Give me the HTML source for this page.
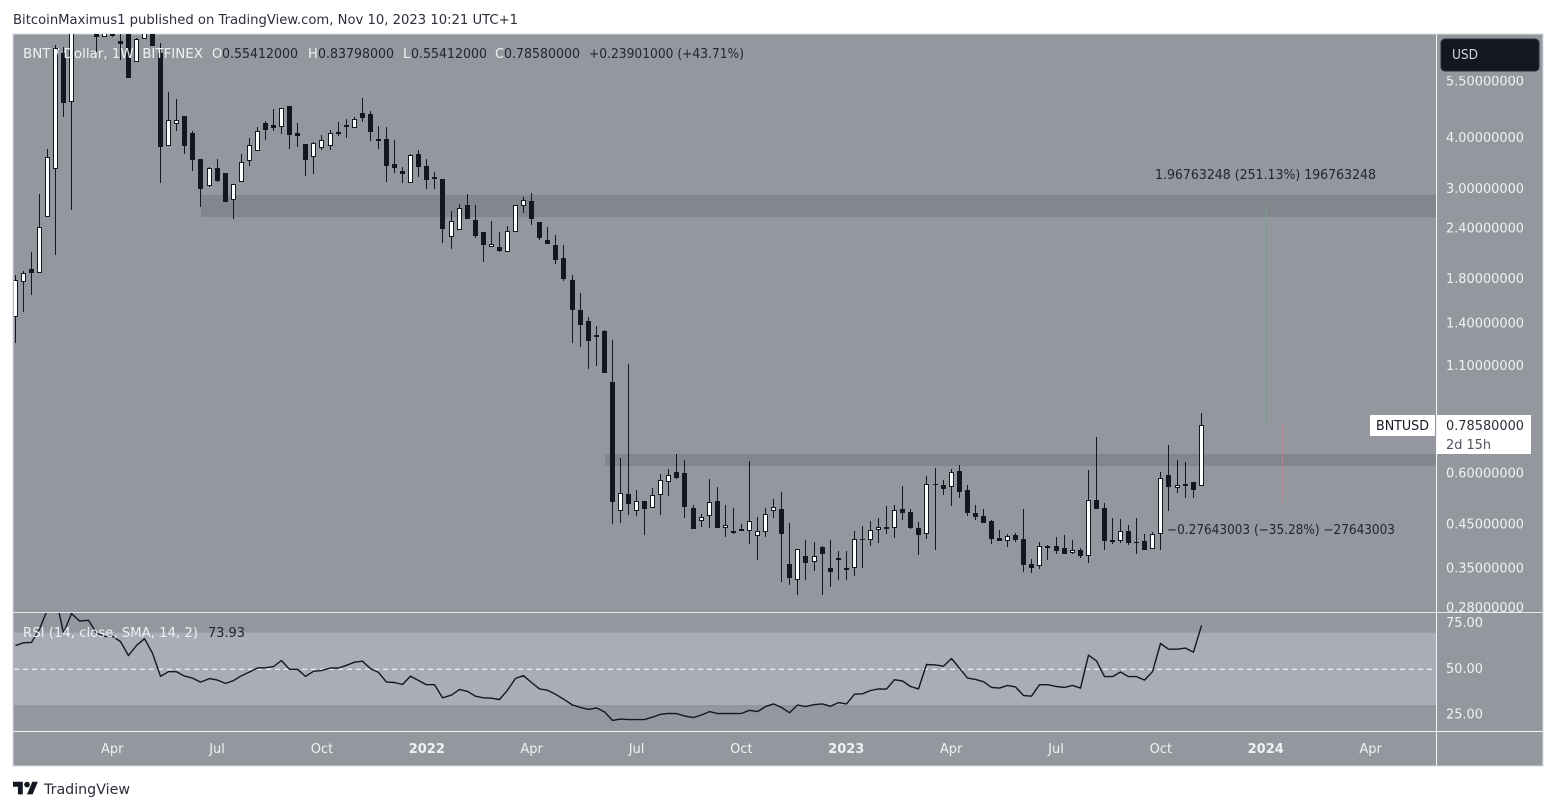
<!DOCTYPE html>
<html lang="en">
<head>
<meta charset="utf-8">
<title>BNT / Dollar weekly chart</title>
<style>
html,body{margin:0;padding:0;background:#fff;width:1556px;height:810px;overflow:hidden}
svg{display:block}
text{font-family:"DejaVu Sans","Liberation Sans",sans-serif;font-size:13px}
.lt{fill:#f0f1f4}
.dk{fill:#23262f}
</style>
</head>
<body>
<svg id="chart" xmlns="http://www.w3.org/2000/svg" width="1556" height="810" viewBox="0 0 1556 810">
  <defs>
    <clipPath id="price-clip"><rect x="14" y="34" width="1422" height="578"/></clipPath>
    <clipPath id="rsi-clip"><rect x="14" y="613" width="1422" height="118"/></clipPath>
    <clipPath id="axis-clip"><rect x="1437" y="76" width="106" height="536"/></clipPath>
  </defs>
  <text x="13" y="24" textLength="505" lengthAdjust="spacingAndGlyphs" fill="#2a2e39">BitcoinMaximus1 published on TradingView.com, Nov 10, 2023 10:21 UTC+1</text>
  <rect x="13" y="34" width="1530" height="732" fill="#95979f" stroke="#d6d8e0" stroke-width="1"/>
  <g id="zones"></g>
  <g id="candles" clip-path="url(#price-clip)"></g>
  <rect x="1266" y="203" width="1" height="221" fill="#76a081"/>
  <rect x="1282" y="425" width="1" height="77" fill="#c2838b"/>
  <text x="1155" y="179" textLength="221" lengthAdjust="spacingAndGlyphs" class="dk">1.96763248 (251.13%) 196763248</text>
  <text x="1167" y="534" textLength="228" lengthAdjust="spacingAndGlyphs" class="dk">−0.27643003 (−35.28%) −27643003</text>

  <rect x="13" y="612" width="1530" height="1" fill="#e8e9ee"/>
  <rect x="13" y="731" width="1530" height="1" fill="#f2f3f6"/>
  <rect x="1436" y="34" width="1" height="732" fill="#f2f3f6"/>
  <g id="rsi"></g>
  <g id="price-axis" clip-path="url(#axis-clip)"></g>
  <g id="rsi-axis"></g>
  <g id="time-axis"></g>

  <g>
    <text x="23" y="58" textLength="180" lengthAdjust="spacingAndGlyphs" class="lt">BNT / Dollar, 1W, BITFINEX</text>
    <text x="212" y="58" class="lt">O</text>
    <text x="222" y="58" textLength="76" lengthAdjust="spacingAndGlyphs" class="dk">0.55412000</text>
    <text x="308" y="58" class="lt">H</text>
    <text x="318" y="58" textLength="76" lengthAdjust="spacingAndGlyphs" class="dk">0.83798000</text>
    <text x="403" y="58" class="lt">L</text>
    <text x="411" y="58" textLength="76" lengthAdjust="spacingAndGlyphs" class="dk">0.55412000</text>
    <text x="495" y="58" class="lt">C</text>
    <text x="504" y="58" textLength="76" lengthAdjust="spacingAndGlyphs" class="dk">0.78580000</text>
    <text x="589" y="58" textLength="155" lengthAdjust="spacingAndGlyphs" class="dk">+0.23901000 (+43.71%)</text>
  </g>
  <text x="23" y="637" textLength="175" lengthAdjust="spacingAndGlyphs" class="lt">RSI (14, close, SMA, 14, 2)</text>
  <text x="208" y="637" textLength="37" lengthAdjust="spacingAndGlyphs" class="dk">73.93</text>

  <g>
    <rect x="1441" y="39" width="98" height="32" rx="4" fill="#131722" stroke="#2a2e39"/>
    <text x="1452" y="59" textLength="26" lengthAdjust="spacingAndGlyphs" fill="#d1d4dc">USD</text>
  </g>
  <g>
    <rect x="1370" y="415" width="65" height="21" rx="1" fill="#ffffff"/>
    <text x="1376" y="430" textLength="53" lengthAdjust="spacingAndGlyphs" fill="#131722">BNTUSD</text>
    <rect x="1437" y="415" width="94" height="39" fill="#ffffff"/>
    <text x="1446" y="430" textLength="78" lengthAdjust="spacingAndGlyphs" fill="#2a2e39">0.78580000</text>
    <text x="1446" y="449" textLength="45" lengthAdjust="spacingAndGlyphs" fill="#50535e">2d 15h</text>
  </g>
  <g>
    <g transform="translate(13,779) scale(.7)" fill="#131722">
      <path d="M14 22H7V11H0V4h14v18zM28 22h-8l7.5-18h8L28 22z"/><circle cx="20" cy="8" r="4"/>
    </g>
    <text x="44" y="794" textLength="86" lengthAdjust="spacingAndGlyphs" fill="#2a2e39" style="font-size:14.5px">TradingView</text>
  </g>
</svg>
<script>
// ---- price series (weekly OHLC, USD) ----
const opens = [1.449,1.765,1.897,1.852,2.549,3.332,6.43,4.885,7.5,8.2,
7.53,7.06,7.15,6.885,7.3,6.12,6.95,7.45,6.44,3.808,
4.30,4.497,4.09,3.526,3.027,3.35,3.265,2.797,3.107,3.487,
3.69,4.33,4.27,4.225,4.766,4.085,3.835,3.58,3.765,3.808,
4.105,4.275,4.215,4.58,4.555,3.955,3.955,3.435,3.30,3.09,
3.64,3.393,3.19,3.15,2.276,2.368,2.722,2.502,2.338,2.15,
2.147,2.092,2.342,2.713,2.785,2.475,2.234,2.172,2.018,1.782,
1.504,1.413,1.305,1.335,1.001,.4837,.5317,.4837,.51,.4912,
.5267,.5699,.6021,.5988,.4912,.4564,.4677,.511,.4394,.4313,
.4362,.4296,.4177,.4273,.4811,.4884,.3578,.3256,.3745,.3605,
.394,.3499,.3702,.3499,.3485,.412,.4105,.432,.4412,.4369,
.4876,.4802,.4387,.4225,.5625,.5595,.551,.6054,.5437,.4775,
.4696,.4564,.4146,.4082,.4218,.4122,.3578,.3525,.396,.396,
.3917,.3794,.3873,.373,.5138,.4912,.4098,.406,.4313,.4053,
.4076,.39,.4225,.5917,.551,.5625,.5688,.55412];
const highs = [1.834,1.875,2.088,2.899,3.738,6.73,6.65,7.75,8.6,9.4,
8.1,7.6,7.6,7.4,7.5,7.02,7.8,7.7,6.81,5.15,
4.96,4.505,4.14,3.53,3.375,3.53,3.27,3.07,3.639,3.97,
4.23,4.38,4.685,4.71,4.77,4.32,3.84,3.895,4.045,4.16,
4.35,4.43,4.487,4.987,4.635,4.255,4.23,3.933,3.375,3.64,
3.716,3.53,3.28,3.155,2.632,2.74,2.9,2.722,2.34,2.483,
2.338,2.417,2.725,2.85,2.915,2.48,2.405,2.298,2.172,1.834,
1.656,1.445,1.374,1.343,1.269,.6517,1.108,.5437,.511,.55,
.5954,.6123,.6666,.6442,.4996,.4748,.5787,.5531,.4996,.4912,
.4488,.6407,.4669,.4912,.5167,.5377,.4513,.3895,.4098,.4053,
.396,.4098,.3851,.3851,.4313,.4437,.4564,.4642,.4968,.4996,
.5563,.4884,.4538,.5884,.6158,.5753,.6123,.6262,.5595,.4996,
.4884,.4589,.4337,.4241,.4265,.4884,.3681,.4053,.397,.417,
.4218,.4098,.3917,.6088,.7339,.505,.4642,.4616,.4462,.4642,
.4241,.429,.6021,.7013,.6442,.6371,.569,.83798];
const lows = [1.251,1.49,1.638,1.852,2.549,2.053,4.486,2.647,7.3,7.3,
6.48,7.06,7.03,6.18,5.595,6.1,6.95,6.69,3.09,3.8,
4.145,3.63,3.306,2.698,3.02,3.107,2.775,2.52,3.1,3.4,
3.69,3.933,4.145,4.07,3.74,3.786,3.215,3.25,3.72,3.72,
4.02,3.98,4.21,4.36,3.91,3.74,3.107,3.27,3.09,3.09,
3.195,2.98,2.98,2.197,2.124,2.36,2.516,2.26,1.973,2.15,
2.088,2.09,2.34,2.608,2.43,2.234,2.18,1.95,1.772,1.248,
1.22,1.077,1.096,1.05,.449,.4513,.472,.4696,.4218,.49,
.4722,.5257,.5787,.4642,.436,.4412,.4387,.4385,.417,.4241,
.431,.4008,.366,.417,.4642,.3233,.3179,.3004,.3269,.344,
.3004,.3143,.3269,.3269,.3345,.3499,.396,.403,.4241,.4146,
.4589,.4362,.3766,.4122,.3873,.5287,.4968,.5197,.4696,.4589,
.451,.4008,.407,.394,.4053,.3421,.3403,.3479,.366,.3787,
.378,.379,.3702,.3599,.488,.3873,.4008,.403,.3985,.3787,
.387,.39,.3873,.4829,.5346,.5197,.5197,.55412];
const closes = [1.779,1.852,1.855,2.409,3.567,6.605,4.858,7.53,8.2,7.6,
7.047,7.4,7.08,6.76,5.595,6.95,7.5,6.69,3.786,4.396,
4.396,3.808,3.518,2.987,3.35,3.119,2.775,3.062,3.468,3.816,
4.13,4.17,4.21,4.705,4.052,4.03,3.518,3.87,3.926,4.085,
4.075,4.235,4.42,4.46,4.12,3.91,3.40,3.36,3.245,3.615,
3.38,3.137,3.155,2.378,2.483,2.672,2.516,2.285,2.172,2.185,
2.10,2.35,2.722,2.796,2.516,2.26,2.185,1.995,1.792,1.504,
1.382,1.262,1.29,1.053,.508,.5338,.5025,.51,.4884,.5278,
.5743,.591,.582,.494,.4362,.4661,.5073,.4387,.445,.4265,
.4313,.4556,.4306,.474,.4932,.4241,.3307,.3889,.3599,.3738,
.3787,.3421,.366,.3459,.4114,.4098,.433,.4404,.4362,.4848,
.4775,.4387,.4218,.5615,.5595,.5468,.6011,.5377,.4775,.4669,
.4513,.4122,.4076,.4186,.4098,.3559,.3499,.3956,.3917,.3851,
.3787,.3866,.3745,.5129,.4884,.4076,.4053,.4306,.403,.403,
.3873,.4235,.581,.5531,.5584,.5563,.5437,.7858];

// ---- RSI series ----
const rsiValues = [63,64.5,64.7,72,82.7,90,69.8,80.5,76.4,76.8,
69.8,68,68,65.2,57.5,63,66.7,58.8,46.1,48.7,
48.7,46.3,45.2,43,44.9,44.1,42.3,43.8,46.5,48.5,
50.7,50.9,51.5,54.8,50,50,46.1,48.9,49.3,50.7,
50.7,52.2,53.9,54.4,50.4,48.3,43,42.8,41.7,46.3,
43.9,41.6,41.6,34.4,35.9,39,37.9,35.3,34.4,34.2,
33.5,38.6,45,46.5,42.8,39.3,38.6,36.4,33.7,30.5,
29.2,28.1,28.9,26.7,22.1,22.8,22.5,22.5,22.5,23.9,
25.4,25.9,25.8,24.5,23.6,25,26.9,25.8,25.9,25.8,
25.9,27.6,26.9,29.6,31.1,29.1,26.3,30.5,29.6,30.7,
31.1,29.8,31.8,31.1,36.4,36.6,38.4,39.3,39.2,44.3,
43.6,40.6,39.3,52.6,52.4,51.7,55.9,50.6,45.2,44.5,
43.2,40.1,39.7,41.2,40.4,35.7,35.3,41.6,41.6,40.6,
40.1,41.2,39.7,57.7,54.6,46,46,48.5,46,46,
44.1,48.7,64.1,61,61,61.6,59.4,73.93];

// ---- axes ----
const priceTicks = [5.5,4,3,2.4,1.8,1.4,1.1,0.6,0.45,0.35,0.28];
const rsiTicks = [75,50,25];
const timeLabels = ['Apr','Jul','Oct','2022','Apr','Jul','Oct','2023','Apr','Jul','Oct','2024','Apr'];
const timeWeeks = [12,25,38,51,64,77,90,103,116,129,142,155,168];

// ---- support / resistance zones: [top price, bottom price, first week] ----
const zoneTops = [2.875,0.6665];
const zoneBottoms = [2.55,0.6234];
const zoneStartWeeks = [23,73];

const NS = 'http://www.w3.org/2000/svg';
function make(tag, attrs, parent){
  const el = document.createElementNS(NS, tag);
  for (const k in attrs) el.setAttribute(k, attrs[k]);
  parent.appendChild(el);
  return el;
}
function xAt(i){ return 15.4 + i * 8.0667; }
function yPrice(p){ return 137 + 176.8 * Math.log(4 / p); }
function yRsi(v){ return 669.3 - (v - 50) * 1.83; }

const DARK = '#131722';
const zonesG = document.getElementById('zones');
zoneTops.forEach(function(top, k){
  const x0 = Math.floor(xAt(zoneStartWeeks[k])) + 1;
  const yT = Math.round(yPrice(top));
  const yB = Math.round(yPrice(zoneBottoms[k]));
  const z = make('rect', {x:x0, y:yT, width:1436 - x0, height:yB - yT, fill:'#84868e'}, zonesG);
  
  
});

const candlesG = document.getElementById('candles');
opens.forEach(function(o, i){
  const c = closes[i];
  const col = Math.floor(xAt(i));
  const up = c >= o;
  const g = make('g', {'shape-rendering':'crispEdges'}, candlesG);
  
  
  const yH = Math.round(yPrice(highs[i]));
  const yL = Math.round(yPrice(lows[i]));
  const wick = make('rect', {x:col, y:yH, width:1, height:Math.max(1, yL - yH), fill:DARK}, g);
  
  
  const yT = Math.round(yPrice(Math.max(o, c)));
  const yB = Math.round(yPrice(Math.min(o, c)));
  const h = Math.max(up ? 3 : 1, yB - yT);
  const body = make('rect', {x:col - 2, y:yT, width:5, height:h, fill:DARK}, g);
  
  
  if (up) {
    const fill = make('rect', {x:col - 1, y:yT + 1, width:3, height:h - 2, fill:'#ffffff'}, g);
    
    
  }
});

const rsiG = document.getElementById('rsi');
const band = make('rect', {x:14, y:yRsi(70), width:1422, height:yRsi(30) - yRsi(70), fill:'#abadb6'}, rsiG);


const low = make('line', {x1:14, x2:1436, y1:yRsi(30), y2:yRsi(30), stroke:'#8b8d95', 'stroke-width':1}, rsiG);


const mid = make('line', {x1:14, x2:1436, y1:yRsi(50), y2:yRsi(50), stroke:'#ffffff', 'stroke-width':1, 'stroke-dasharray':'5 4'}, rsiG);


const rsiPts = rsiValues.map(function(v, i){ return (Math.floor(xAt(i)) + 0.5) + ',' + yRsi(v).toFixed(1); }).join(' ');
const rsiLine = make('polyline', {points:rsiPts, fill:'none', stroke:DARK, 'stroke-width':1.4, 'stroke-linejoin':'round', 'clip-path':'url(#rsi-clip)'}, rsiG);



const priceAxis = document.getElementById('price-axis');
priceTicks.forEach(function(p){
  const t = make('text', {x:1446, y:yPrice(p) + 5, class:'lt', textLength:78, lengthAdjust:'spacingAndGlyphs'}, priceAxis);
  
  
  t.textContent = p.toFixed(8);
});
const rsiAxis = document.getElementById('rsi-axis');
rsiTicks.forEach(function(v){
  const t = make('text', {x:1446, y:yRsi(v) + 3.5, class:'lt', textLength:37, lengthAdjust:'spacingAndGlyphs'}, rsiAxis);
  
  
  t.textContent = v.toFixed(2);
});
const timeAxis = document.getElementById('time-axis');
timeLabels.forEach(function(label, k){
  const isYear = /^\d{4}$/.test(label);
  const t = make('text', {x:xAt(timeWeeks[k]), y:753, class:'lt', 'text-anchor':'middle'}, timeAxis);
  if (isYear) t.setAttribute('font-weight', 'bold');
  
  
  t.textContent = label;
});
</script>
</body>
</html>
